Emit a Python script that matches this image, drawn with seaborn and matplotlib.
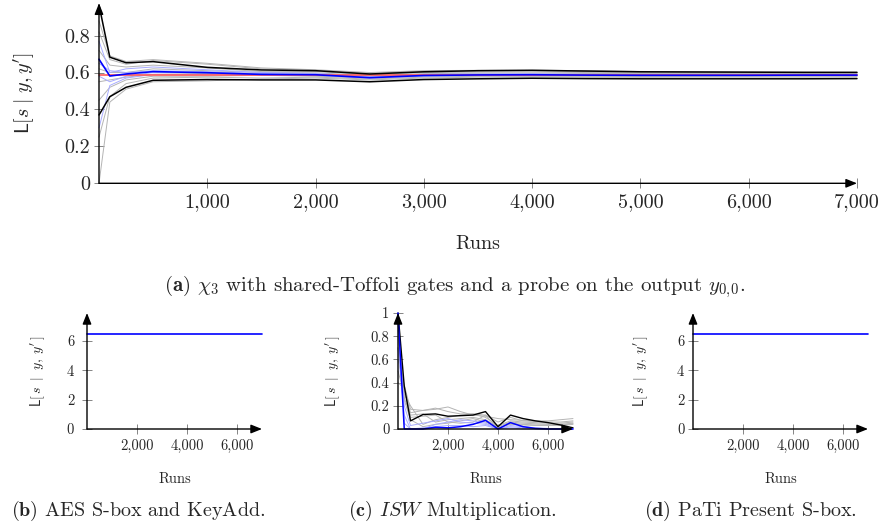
import matplotlib
matplotlib.use("Agg")
import matplotlib.pyplot as plt
import seaborn as sns

# (a) chi_3, shared-Toffoli, probe on y_{0,0}
runs_a = [0, 100, 250, 500, 1000, 1500, 2000, 2500, 3000, 3500, 4000, 4500, 5000, 5500, 6000, 6500, 7000]
upper_a = [0.966, 0.683, 0.653, 0.659, 0.628, 0.614, 0.610, 0.592, 0.604, 0.610, 0.612, 0.608, 0.604, 0.603, 0.602, 0.601, 0.601]
lower_a = [0.370, 0.469, 0.520, 0.558, 0.562, 0.560, 0.560, 0.550, 0.562, 0.566, 0.569, 0.567, 0.566, 0.566, 0.566, 0.566, 0.567]
mean_a = [0.672, 0.581, 0.592, 0.605, 0.599, 0.590, 0.588, 0.572, 0.584, 0.587, 0.588, 0.586, 0.585, 0.585, 0.585, 0.586, 0.586]
true_a = [0.585] * len(runs_a)
gray_a = [
    [0.00, 0.44, 0.51, 0.55, 0.555, 0.565, 0.57, 0.56, 0.57, 0.575, 0.576, 0.575, 0.574, 0.575, 0.575, 0.575, 0.576],
    [0.25, 0.47, 0.54, 0.57, 0.575, 0.57, 0.575, 0.565, 0.575, 0.58, 0.58, 0.58, 0.579, 0.579, 0.58, 0.58, 0.58],
    [0.45, 0.52, 0.56, 0.58, 0.58, 0.585, 0.58, 0.57, 0.58, 0.583, 0.585, 0.583, 0.582, 0.583, 0.583, 0.583, 0.583],
    [0.55, 0.56, 0.575, 0.59, 0.595, 0.59, 0.59, 0.58, 0.588, 0.59, 0.59, 0.589, 0.588, 0.588, 0.589, 0.589, 0.589],
    [0.62, 0.60, 0.60, 0.62, 0.61, 0.60, 0.598, 0.585, 0.594, 0.596, 0.597, 0.595, 0.594, 0.594, 0.594, 0.594, 0.593],
    [0.72, 0.64, 0.63, 0.64, 0.625, 0.605, 0.605, 0.59, 0.60, 0.602, 0.603, 0.60, 0.599, 0.598, 0.597, 0.597, 0.596],
    [0.82, 0.67, 0.645, 0.665, 0.645, 0.62, 0.612, 0.595, 0.606, 0.608, 0.609, 0.605, 0.602, 0.601, 0.60, 0.60, 0.599],
    [0.88, 0.69, 0.66, 0.67, 0.65, 0.625, 0.615, 0.60, 0.61, 0.612, 0.613, 0.61, 0.606, 0.604, 0.603, 0.602, 0.601],
]
lightblue_a = [
    [0.77, 0.60, 0.62, 0.63, 0.615, 0.60, 0.595, 0.58, 0.59, 0.592, 0.593, 0.59, 0.588, 0.588, 0.588, 0.588, 0.588],
    [0.30, 0.53, 0.57, 0.59, 0.59, 0.585, 0.585, 0.57, 0.58, 0.584, 0.586, 0.585, 0.584, 0.584, 0.585, 0.585, 0.585],
    [0.58, 0.55, 0.58, 0.60, 0.60, 0.592, 0.59, 0.575, 0.585, 0.588, 0.589, 0.587, 0.586, 0.586, 0.586, 0.586, 0.587],
    [0.65, 0.61, 0.60, 0.61, 0.605, 0.595, 0.59, 0.574, 0.586, 0.589, 0.59, 0.588, 0.587, 0.587, 0.587, 0.587, 0.587],
]

# (b) AES S-box and KeyAdd, (d) PaTi Present S-box
runs_bd = [0, 7000]
level_b = [6.5, 6.5]
level_d = [6.5, 6.5]

# (c) ISW multiplication
runs_c = [0, 250, 500, 1000, 1500, 2000, 2500, 3000, 3500, 4000, 4500, 5000, 5500, 6000, 6500, 7000]
black_c = [1.0, 0.37, 0.07, 0.125, 0.13, 0.11, 0.115, 0.12, 0.15, 0.02, 0.12, 0.09, 0.07, 0.055, 0.035, 0.01]
blue_c = [1.0, 0.0, 0.0, 0.0, 0.015, 0.01, 0.02, 0.04, 0.075, 0.0, 0.055, 0.02, 0.005, 0.0, 0.0, 0.0]
gray_c = [
    [0.6, 0.38, 0.17, 0.16, 0.17, 0.19, 0.15, 0.12, 0.11, 0.09, 0.08, 0.075, 0.07, 0.07, 0.08, 0.09],
    [0.8, 0.33, 0.14, 0.16, 0.18, 0.15, 0.13, 0.13, 0.12, 0.06, 0.10, 0.07, 0.065, 0.06, 0.06, 0.07],
    [0.5, 0.30, 0.20, 0.04, 0.08, 0.10, 0.12, 0.13, 0.10, 0.03, 0.07, 0.06, 0.055, 0.05, 0.05, 0.06],
    [0.7, 0.27, 0.12, 0.13, 0.06, 0.08, 0.09, 0.10, 0.08, 0.02, 0.06, 0.05, 0.045, 0.04, 0.04, 0.05],
    [0.9, 0.25, 0.08, 0.02, 0.04, 0.05, 0.07, 0.09, 0.06, 0.01, 0.04, 0.035, 0.03, 0.03, 0.03, 0.04],
    [0.4, 0.35, 0.10, 0.11, 0.12, 0.06, 0.05, 0.06, 0.12, 0.0, 0.05, 0.04, 0.035, 0.035, 0.035, 0.045],
]
lightblue_c = [
    [0.85, 0.20, 0.03, 0.05, 0.07, 0.09, 0.06, 0.05, 0.04, 0.0, 0.02, 0.01, 0.0, 0.0, 0.0, 0.01],
    [0.70, 0.12, 0.0, 0.0, 0.04, 0.06, 0.08, 0.07, 0.05, 0.0, 0.03, 0.02, 0.01, 0.005, 0.0, 0.0],
    [0.95, 0.05, 0.0, 0.01, 0.02, 0.03, 0.03, 0.02, 0.03, 0.0, 0.01, 0.0, 0.0, 0.0, 0.0, 0.0],
]

sns.set_theme(style="white")
plt.rcParams["font.family"] = ["cmr10", "DejaVu Serif"]
plt.rcParams["mathtext.fontset"] = "cm"
plt.rcParams["axes.unicode_minus"] = False
plt.rcParams["axes.formatter.use_mathtext"] = True

YLAB = r"$\mathsf{L}[s\;|\;y,y^{\prime}]$"
YLAB_SMALL = r"$\mathsf{L}[\,s\;\;|\;\;y,\;y^{\prime}\,]$"
GRAY = "#b4b4b4"
LBLUE = "#a8acff"


def line(ax, x, y, color, lw, z=2):
    sns.lineplot(x=x, y=y, ax=ax, color=color, linewidth=lw, zorder=z, clip_on=False)


def pgf_axis(ax, xticks, xlabels, yticks, ylabels, ylim, fs, ylab, ylab_fs, ylab_x):
    ax.set_xlim(0, 7000)
    ax.set_ylim(*ylim)
    for s in ax.spines.values():
        s.set_visible(False)
    arrow = dict(arrowstyle="-|>,head_length=0.55,head_width=0.22", color="black", lw=1.0,
                 shrinkA=0, shrinkB=0)
    ax.annotate("", xy=(1.0, 0), xytext=(0, 0), xycoords="axes fraction", arrowprops=arrow, zorder=5)
    ax.annotate("", xy=(0, 1.0), xytext=(0, 0), xycoords="axes fraction", arrowprops=arrow, zorder=5)
    ax.set_xticks(xticks, xlabels)
    ax.set_yticks(yticks, ylabels)
    ax.tick_params(bottom=True, left=True, direction="inout", length=6.5, width=0.5,
                   color="#555555", labelsize=fs, pad=4)
    ax.tick_params(axis="y", pad=3)
    ax.set_xlabel("Runs", fontsize=fs)
    ax.set_ylabel(ylab, fontsize=ylab_fs)
    ax.yaxis.set_label_coords(ylab_x, 0.5)


fig = plt.figure(figsize=(8.85, 5.32), dpi=100)
W, H = 885.0, 532.0

# top panel
ax = fig.add_axes([99 / W, 1 - 183.3 / H, 758 / W, 180 / H])
for g in gray_a:
    line(ax, runs_a, g, GRAY, 0.7)
for g in lightblue_a:
    line(ax, runs_a, g, LBLUE, 0.7)
line(ax, runs_a, true_a, "#ff5a5a", 1.2, 3)
line(ax, runs_a, upper_a, "black", 1.1, 3)
line(ax, runs_a, lower_a, "black", 1.1, 3)
line(ax, runs_a, mean_a, "#0000ff", 1.2, 4)
pgf_axis(ax, [1000, 2000, 3000, 4000, 5000, 6000, 7000],
         ["1,000", "2,000", "3,000", "4,000", "5,000", "6,000", "7,000"],
         [0, 0.2, 0.4, 0.6, 0.8], ["0", "0.2", "0.4", "0.6", "0.8"], (0, 0.975), 14.5,
         YLAB, 14.5, -0.082)
ax.xaxis.set_label_coords(0.5, -0.29)

small_x = [2000, 4000, 6000]
small_xl = ["2,000", "4,000", "6,000"]

# (b)
ax = fig.add_axes([87 / W, 1 - 429 / H, 175 / W, 116 / H])
line(ax, runs_bd, level_b, "#0000ff", 1.2, 4)
pgf_axis(ax, small_x, small_xl, [0, 2, 4, 6], ["0", "2", "4", "6"], (0, 7.9), 10.5,
         YLAB_SMALL, 10, -0.229)
ax.tick_params(axis="y", pad=6)
ax.xaxis.set_label_coords(0.5, -0.37)

# (c)
ax = fig.add_axes([398 / W, 1 - 429 / H, 175 / W, 116 / H])
for g in gray_c:
    line(ax, runs_c, g, GRAY, 0.7)
for g in lightblue_c:
    line(ax, runs_c, g, LBLUE, 0.7)
line(ax, runs_c, black_c, "black", 1.0, 3)
line(ax, runs_c, blue_c, "#0000ff", 1.1, 4)
pgf_axis(ax, small_x, small_xl, [0, 0.2, 0.4, 0.6, 0.8, 1.0],
         ["0", "0.2", "0.4", "0.6", "0.8", "1"], (0, 1.0), 10.5, YLAB_SMALL, 10, -0.32)
ax.xaxis.set_label_coords(0.5, -0.37)

# (d)
ax = fig.add_axes([693 / W, 1 - 429 / H, 175 / W, 116 / H])
line(ax, runs_bd, level_d, "#0000ff", 1.2, 4)
pgf_axis(ax, small_x, small_xl, [0, 2, 4, 6], ["0", "2", "4", "6"], (0, 7.9), 10.5,
         YLAB_SMALL, 10, -0.246)
ax.xaxis.set_label_coords(0.5, -0.37)

# captions
fig.text(455 / W, 1 - 287 / H,
         r"$\mathbf{(a)}$ $\chi_3$ with shared-Toffoli gates and a probe on the output $y_{0,\!0}$.",
         ha="center", va="center", fontsize=15)
fig.text(138 / W, 1 - 511 / H, r"$\mathbf{(b)}$ AES S-box and KeyAdd.", ha="center", va="center", fontsize=14.5)
fig.text(452 / W, 1 - 511 / H, r"$\mathbf{(c)}$ $ISW$ Multiplication.", ha="center", va="center", fontsize=14.5)
fig.text(750 / W, 1 - 511 / H, r"$\mathbf{(d)}$ PaTi Present S-box.", ha="center", va="center", fontsize=14.5)

fig.savefig("out.png", dpi=100)
